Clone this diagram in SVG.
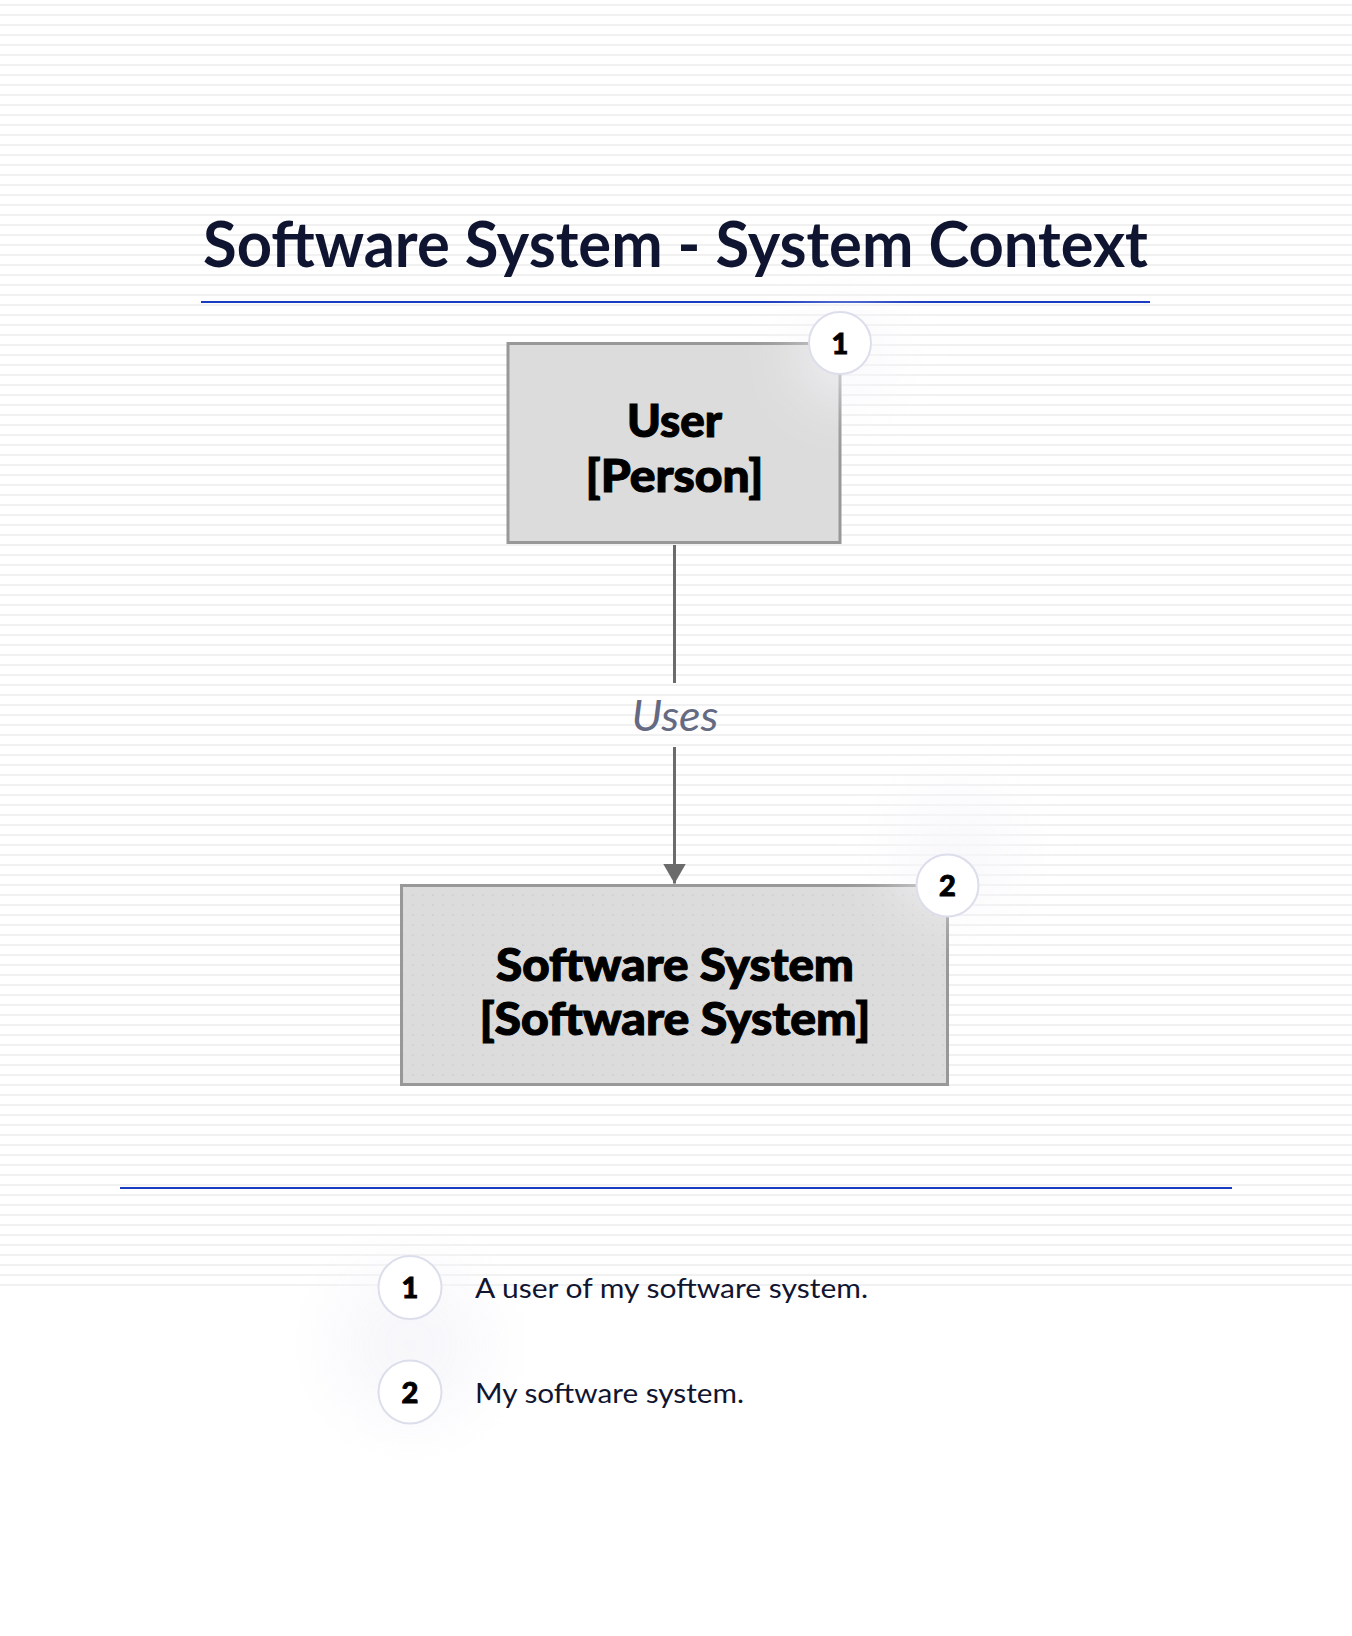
<svg xmlns="http://www.w3.org/2000/svg" width="1352" height="1636" viewBox="0 0 1352 1636">
<defs>
<style>
.title{font-family:Lato,"Noto Sans","Liberation Sans",sans-serif;font-weight:700;font-size:64px;fill:#0f1430}
.node{font-family:Lato,"Noto Sans","Liberation Sans",sans-serif;font-weight:900;font-size:45px;fill:#000;stroke:#000;stroke-width:1.1;text-anchor:middle}
.badge{fill:#fff;stroke:#dcdeeb;stroke-width:2}
.num{font-family:Lato,"Noto Sans","Liberation Sans",sans-serif;font-weight:900;font-size:29px;fill:#000;stroke:#000;stroke-width:0.9;text-anchor:middle}
.label{font-family:Lato,"Noto Sans","Liberation Sans",sans-serif;font-style:italic;font-size:42px;fill:#636a81;text-anchor:middle}
.legend{font-family:Lato,"Noto Sans","Liberation Sans",sans-serif;font-size:27px;fill:#111530}
.sep{stroke:#1a3cc0;stroke-width:2}
.box{stroke:#989898;stroke-width:3}
.glow{fill:#f7f7fb;filter:url(#blur)}
</style>
<pattern id="stripes" x="0" y="0" width="10" height="10" patternUnits="userSpaceOnUse">
<rect x="0" y="4" width="10" height="2" fill="#f1f1f1"/>
</pattern>
<pattern id="dots" x="0" y="0" width="10" height="10" patternUnits="userSpaceOnUse">
<rect width="10" height="10" fill="#dcdcdc"/>
<rect x="2.2" y="4.5" width="1.2" height="1.2" fill="#c3c3c3"/>
</pattern>
<filter id="blur" x="-150%" y="-150%" width="400%" height="400%">
<feGaussianBlur stdDeviation="30"/>
</filter>
<marker id="arrow" markerUnits="userSpaceOnUse" markerWidth="21" markerHeight="23" refX="20" refY="11.5" orient="auto">
<path d="M0,0 L20,11.5 L0,23 Z" fill="#6b6b6b"/>
</marker>
</defs>

<rect x="0" y="0" width="1352" height="1636" fill="#fff"/>
<rect x="0" y="0" width="1352" height="1290" fill="url(#stripes)"/>

<g id="title">
<text class="title" x="203" y="267" textLength="945" lengthAdjust="spacingAndGlyphs">Software System - System Context</text>
<line class="sep" x1="201" y1="302" x2="1150" y2="302"/>
</g>

<g id="connectors">
<path d="M674.5 545 V683 M674.5 747 V883.5" fill="none" stroke="#6b6b6b" stroke-width="3" marker-end="url(#arrow)"/>
<text class="label" x="675" y="731" textLength="87" lengthAdjust="spacingAndGlyphs">Uses</text>
</g>

<g id="node-user">
<rect class="box" x="508" y="343.5" width="332" height="199" fill="#dcdcdc"/>
<text class="node" x="674.5" y="437" textLength="95" lengthAdjust="spacingAndGlyphs">User</text>
<text class="node" x="674.5" y="492" textLength="178" lengthAdjust="spacingAndGlyphs">[Person]</text>
</g>

<g id="node-software-system">
<rect class="box" x="401.5" y="885.5" width="546" height="199" fill="url(#dots)"/>
<text class="node" x="675" y="981" textLength="358" lengthAdjust="spacingAndGlyphs">Software System</text>
<text class="node" x="675" y="1035" textLength="391" lengthAdjust="spacingAndGlyphs">[Software System]</text>
</g>

<g id="badge-1">
<circle class="glow" cx="845" cy="355" r="45" opacity="0.8"/>
<circle class="badge" cx="840" cy="343" r="31"/>
<text class="num" x="840" y="353.5">1</text>
</g>

<g id="badge-2">
<circle class="glow" cx="955" cy="850" r="60" opacity="0.8"/>
<circle class="badge" cx="947.5" cy="885.5" r="31"/>
<text class="num" x="947.5" y="896">2</text>
</g>

<g id="separator">
<line class="sep" x1="120" y1="1188" x2="1232" y2="1188"/>
</g>

<g id="legend">
<circle class="glow" cx="410" cy="1345" r="80" opacity="0.9"/>
<g id="legend-1">
<circle class="badge" cx="410" cy="1287.5" r="31.5"/>
<text class="num" x="410" y="1298">1</text>
<text class="legend" x="475" y="1298" textLength="393" lengthAdjust="spacingAndGlyphs">A user of my software system.</text>
</g>
<g id="legend-2">
<circle class="badge" cx="410" cy="1392" r="31.5"/>
<text class="num" x="410" y="1402.5">2</text>
<text class="legend" x="475" y="1403" textLength="269" lengthAdjust="spacingAndGlyphs">My software system.</text>
</g>
</g>
</svg>
